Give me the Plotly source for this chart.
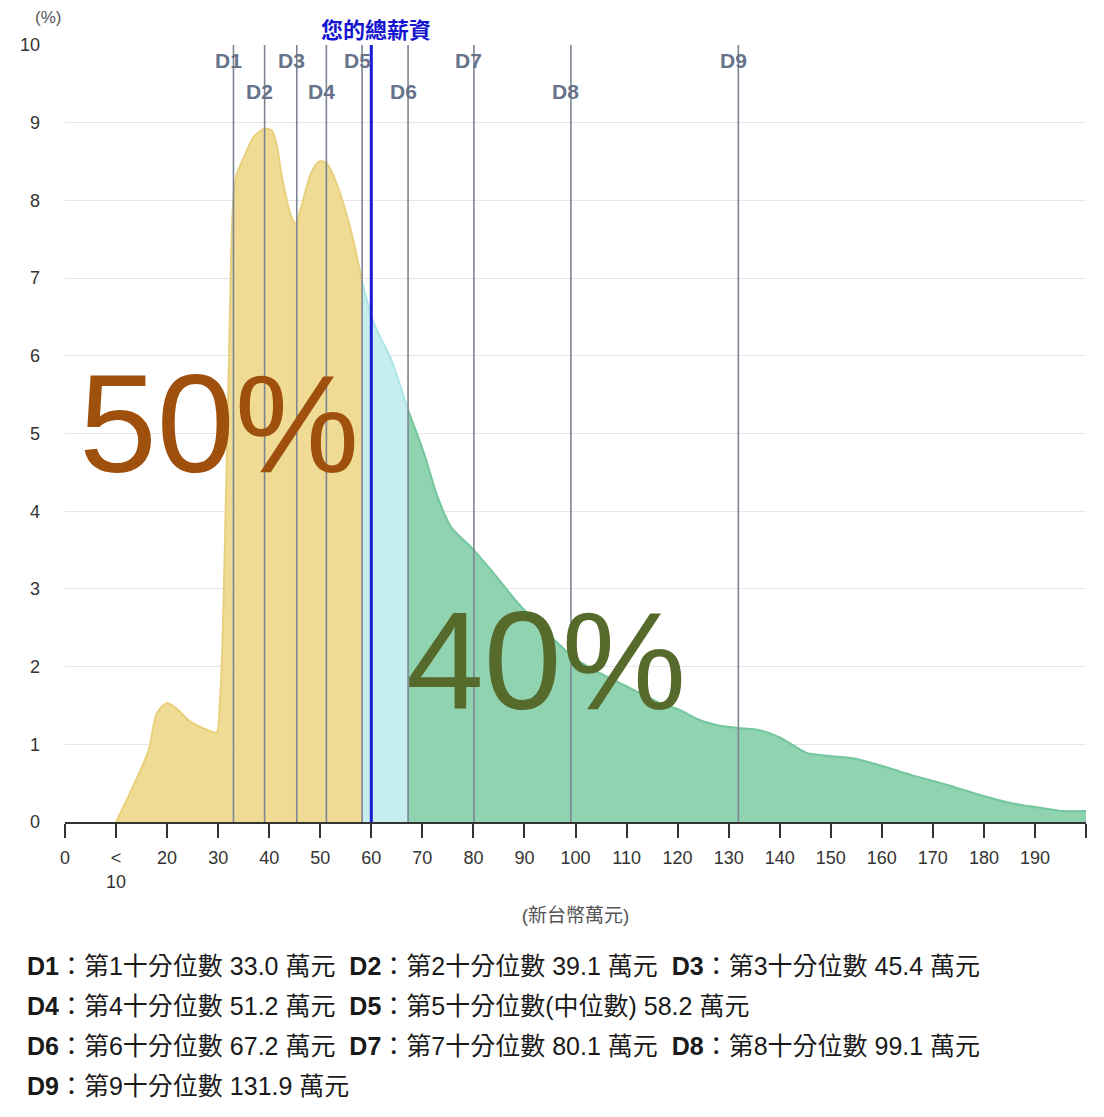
import plotly.graph_objects as go

# ---- data ----
curve_x = [10, 13, 16.4, 18, 19.9, 22, 24.2, 28.1, 29.7, 30.3, 30.8, 31.3, 31.8, 32.3, 32.8, 33.5,
           35, 37, 39, 40.5, 41.5, 42.5, 44.3, 45.2, 46.3, 48.2, 49.8, 51.2, 52.7, 54.7, 56.6, 58.2,
           60.5, 63.9, 67.2, 70.3, 73, 75.6, 79.5, 84, 88.7, 94.5, 99.6, 103.5, 110.2, 116.6, 120.5,
           124.4, 128.3, 131.8, 136.1, 140, 142.6, 145.3, 149.8, 154.3, 159.6, 166, 172.7, 179.1,
           185.5, 192.2, 195.3, 200]
curve_y = [0, 0.41, 0.93, 1.4, 1.53, 1.45, 1.31, 1.18, 1.15, 1.5, 2.2, 3.5, 5.0, 6.5, 7.8, 8.3,
           8.55, 8.82, 8.92, 8.9, 8.7, 8.3, 7.8, 7.7, 7.92, 8.35, 8.5, 8.48, 8.3, 7.92, 7.45, 6.95,
           6.42, 5.95, 5.3, 4.75, 4.18, 3.8, 3.54, 3.2, 2.82, 2.43, 2.12, 1.96, 1.74, 1.53, 1.44,
           1.31, 1.24, 1.21, 1.18, 1.09, 0.99, 0.89, 0.85, 0.82, 0.73, 0.6, 0.48, 0.35,
           0.24, 0.17, 0.14, 0.14]

decile_names = ["D1", "D2", "D3", "D4", "D5", "D6", "D7", "D8", "D9"]
decile_values = [33.0, 39.1, 45.4, 51.2, 58.2, 67.2, 80.1, 99.1, 131.9]
decile_desc = ["第1十分位數", "第2十分位數", "第3十分位數", "第4十分位數", "第5十分位數(中位數)",
               "第6十分位數", "第7十分位數", "第8十分位數", "第9十分位數"]
legend_rows = [[0, 1, 2], [3, 4], [5, 6, 7], [8]]

my_salary = 60
my_salary_label = "您的總薪資"

x_tick_vals = [0, 10, 20, 30, 40, 50, 60, 70, 80, 90, 100, 110, 120, 130, 140, 150, 160, 170, 180, 190, 200]
x_tick_text = ["0", "<<br>10", "20", "30", "40", "50", "60", "70", "80", "90", "100", "110", "120",
               "130", "140", "150", "160", "170", "180", "190", ""]
y_tick_vals = [0, 1, 2, 3, 4, 5, 6, 7, 8, 9, 10]

pct_below = "50%"
pct_above = "40%"

FONT = "Liberation Sans, Arial, Noto Sans CJK TC, sans-serif"
CJK = "Liberation Sans, Noto Sans CJK TC, sans-serif"

# ---- segments ----
d5 = decile_values[4]
d6 = decile_values[5]
def segment(lo, hi):
    xs, ys = [], []
    for x, y in zip(curve_x, curve_y):
        if lo <= x <= hi:
            xs.append(x); ys.append(y)
    return xs, ys

fig = go.Figure()
segs = [
    (segment(0, d5), "rgba(238,217,142,0.95)", "#e8d07c"),
    (segment(d5, d6), "rgba(198,238,238,1)", "#ade6e6"),
    (segment(d6, 200), "rgba(143,211,176,1)", "#74c69e"),
]
for (xs, ys), fillc, linec in segs:
    fig.add_trace(go.Scatter(x=xs, y=ys, mode="lines", fill="tozeroy", fillcolor=fillc,
                             line=dict(color=linec, width=2, shape="spline", smoothing=0.8),
                             hoverinfo="skip", showlegend=False))

shapes = []
annotations = []
for i, (name, v) in enumerate(zip(decile_names, decile_values)):
    shapes.append(dict(type="line", xref="x", yref="y", x0=v, x1=v, y0=0, y1=10,
                       line=dict(color="#7d8593", width=1.6), layer="above"))
    annotations.append(dict(x=v, y=10, xref="x", yref="y", text="<b>%s</b>" % name, showarrow=False,
                            xanchor="center", yanchor="middle", xshift=-5,
                            yshift=-(60 - 45) if i % 2 == 0 else -(91 - 45),
                            font=dict(family=FONT, size=21, color="#66738a")))
shapes.append(dict(type="line", xref="x", yref="y", x0=my_salary, x1=my_salary, y0=0, y1=10,
                   line=dict(color="#1a1ad6", width=3), layer="above"))
annotations.append(dict(x=my_salary, y=10, xref="x", yref="y", text="<b>%s</b>" % my_salary_label,
                        showarrow=False, xanchor="center", yanchor="middle", xshift=5, yshift=17,
                        font=dict(family="Noto Sans CJK TC, sans-serif", size=22, color="#1515d0")))

# big percentages
annotations.append(dict(x=0.151, y=0.5, xref="paper", yref="paper", text=pct_below, showarrow=False,
                        xanchor="center", yanchor="middle", yshift=(822 - 423) - 388 - 1,
                        font=dict(family=FONT, size=140, color="#a0500d")))
annotations.append(dict(x=0.471, y=0.5, xref="paper", yref="paper", text=pct_above, showarrow=False,
                        xanchor="center", yanchor="middle", yshift=(822 - 660) - 388 - 1,
                        font=dict(family=FONT, size=140, color="#566a2c")))

# (%) label
annotations.append(dict(x=(46 - 63) / 1023, y=1, xref="paper", yref="paper", text="(%)", showarrow=False,
                        xanchor="center", yanchor="middle", yshift=45 - 17,
                        font=dict(family=FONT, size=17, color="#555555")))

# bottom legend text
row_y = [966, 1006, 1046, 1086]
for r, idxs in enumerate(legend_rows):
    parts = []
    for i in idxs:
        parts.append("<b>%s</b>：%s %.1f 萬元" % (decile_names[i], decile_desc[i], decile_values[i]))
    txt = "  ".join(parts)
    annotations.append(dict(x=(23 - 63) / 1023, y=(822 - row_y[r]) / 777, xref="paper", yref="paper",
                            text=txt, showarrow=False, xanchor="left", yanchor="middle",
                            font=dict(family=CJK, size=25, color="#1a1a1a")))

# page body has an 8px margin: compensate so the plot area lands at (63..1086, 45..822)
fig.update_layout(
    width=1096, height=1109,
    margin=dict(l=55, r=18, t=37, b=295),
    plot_bgcolor="white", paper_bgcolor="white",
    shapes=shapes, annotations=annotations,
    showlegend=False,
    font=dict(family=FONT, color="#333333"),
)
fig.update_xaxes(range=[0, 200], tickvals=x_tick_vals, ticktext=x_tick_text, ticks="outside",
                 ticklen=14, tickwidth=1.5, tickcolor="#333333", showline=True, linecolor="#333333",
                 linewidth=1.5, showgrid=False, zeroline=False, ticklabelstandoff=5,
                 tickfont=dict(family=FONT, size=18, color="#333333"),
                 title=dict(text="(新台幣萬元)", font=dict(family=CJK, size=19, color="#555555"), standoff=18))
fig.update_yaxes(range=[0, 10], tickvals=y_tick_vals, showgrid=True, gridcolor="#e6e6e6", gridwidth=1,
                 zeroline=False, showline=False, ticks="", ticklabelstandoff=24,
                 tickfont=dict(family=FONT, size=18, color="#333333"))

fig.write_html("out.html")
